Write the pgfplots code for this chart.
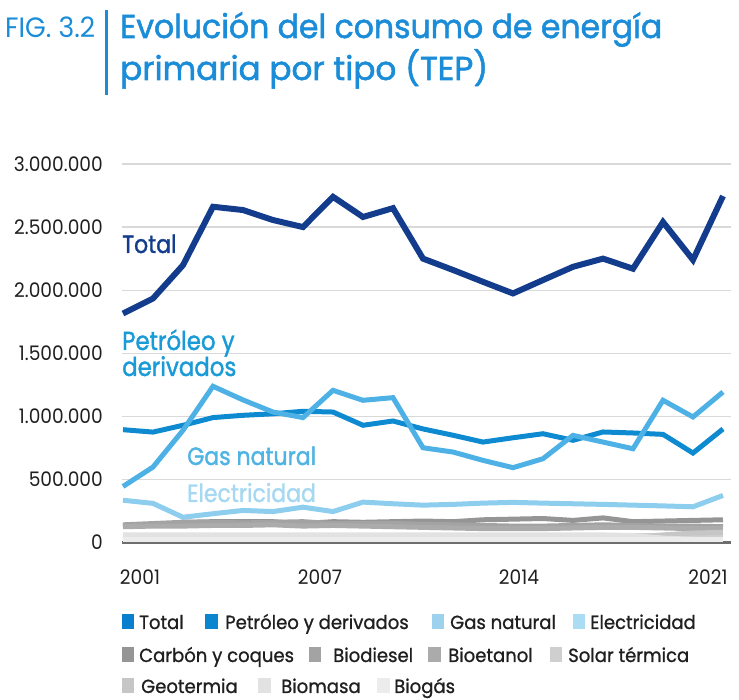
\documentclass[border=0pt]{standalone}
\usepackage{fontspec}
\setmainfont{Poppins}
\newfontfamily\popbold[FakeBold=1.6]{Poppins}
\newfontfamily\popsemi[FakeBold=1.0]{Poppins}
\usepackage{graphicx}
\usepackage{pgfplots}
\usepackage{pgfplotstable}
\pgfplotsset{compat=1.18}

\definecolor{titleblue}{HTML}{1A8CD8}
\definecolor{ctotal}{HTML}{133D8C}
\definecolor{cpet}{HTML}{0E8AD0}
\definecolor{cgas}{HTML}{4DB1E6}
\definecolor{celec}{HTML}{8DCDEE}
\definecolor{lpet}{HTML}{1A9AD6}
\definecolor{lgas}{HTML}{4FB3E3}
\definecolor{lelec}{HTML}{A6D8F1}
\definecolor{cg1}{HTML}{959595}
\definecolor{cg2}{HTML}{A3A3A3}
\definecolor{cg3}{HTML}{ABABAB}
\definecolor{cg4}{HTML}{CFCFCF}
\definecolor{cg5}{HTML}{C6C6C6}
\definecolor{cg6}{HTML}{E2E2E2}
\definecolor{cg7}{HTML}{ECECEC}
\definecolor{sqtotal}{HTML}{0A7FCE}
\definecolor{sqpet}{HTML}{0A86D0}
\definecolor{sqgas}{HTML}{9DD2EE}
\definecolor{sqelec}{HTML}{AADCF3}
\definecolor{gridc}{HTML}{D9D9D9}
\definecolor{basec}{HTML}{6E6E6E}
\definecolor{txt}{HTML}{1F1F1F}

\newcommand{\sq}[1]{\scalebox{0.88}[1]{#1}}
\newcommand{\tl}[1]{\scalebox{0.93}[1]{\fontsize{20}{20}\selectfont #1}}

\pgfplotstableread{
year total pet gas elec carbon biodiesel bioetanol solar geo biomasa biogas
2001 1815000 894000 444000 335000 130000 140000 125000 55000 35000 60000 20000
2002 1934000 875000 598000 310000 135000 150000 130000 55000 35000 60000 20000
2003 2198000 929000 889000 200000 160000 160000 130000 55000 35000 60000 20000
2004 2661000 990000 1238000 228000 165000 160000 135000 55000 35000 60000 20000
2005 2635000 1008000 1130000 254000 165000 155000 135000 55000 35000 60000 20000
2006 2556000 1020000 1034000 245000 165000 160000 140000 55000 35000 60000 20000
2007 2500000 1040000 990000 280000 150000 165000 130000 55000 35000 60000 20000
2008 2740000 1034000 1206000 245000 165000 150000 135000 55000 35000 60000 20000
2009 2580000 929000 1127000 320000 160000 150000 130000 55000 40000 60000 20000
2010 2650000 963000 1148000 307000 165000 150000 125000 55000 40000 60000 20000
2011 2250000 900000 751000 296000 170000 145000 120000 55000 40000 60000 20000
2012 2160000 850000 717000 302000 165000 140000 115000 55000 40000 60000 20000
2013 2066000 796000 651000 312000 180000 135000 110000 55000 40000 60000 20000
2014 1974000 830000 593000 318000 185000 130000 110000 55000 40000 60000 20000
2015 2080000 862000 664000 312000 190000 130000 110000 55000 40000 60000 20000
2016 2185000 810000 849000 307000 175000 135000 115000 55000 40000 60000 20000
2017 2250000 876000 796000 302000 195000 140000 120000 55000 40000 60000 20000
2018 2170000 868000 743000 296000 165000 135000 120000 55000 40000 55000 20000
2019 2540000 857000 1127000 290000 170000 130000 115000 55000 60000 35000 20000
2020 2240000 709000 995000 283000 175000 130000 110000 55000 75000 25000 20000
2021 2746000 900000 1193000 373000 180000 125000 110000 55000 80000 25000 20000
}\datatable

\begin{document}
\begin{tikzpicture}[x=1pt,y=1pt]
\path[use as bounding box] (0,0) rectangle (739,700);

% title
\node[anchor=base west, inner sep=0, text=titleblue] at (5,662) {\resizebox{90pt}{\height}{\fontsize{28}{30}\selectfont FIG. 3.2}};
\fill[titleblue] (105,605) rectangle (108,690);
\node[anchor=base west, inner sep=0, text=titleblue] at (120,662) {\resizebox{542pt}{\height}{\popbold\fontsize{33}{36}\selectfont Evolución del consumo de energía}};
\node[anchor=base west, inner sep=0, text=titleblue] at (120,620) {\resizebox{368pt}{\height}{\popbold\fontsize{33}{36}\selectfont primaria por tipo (TEP)}};

\begin{axis}[
  at={(122pt,157.5pt)}, anchor=south west,
  scale only axis, width=609pt, height=378.5pt,
  xmin=2000.967, xmax=2021.267, ymin=0, ymax=3000000,
  clip=false,
  axis x line*=bottom, axis y line*=left,
  y axis line style={draw=none},
  x axis line style={draw=basec, line width=2.5pt},
  major tick length=0pt,
  ymajorgrids, grid style={draw=gridc, line width=1.2pt},
  scaled y ticks=false, scaled x ticks=false,
  ytick={0,500000,1000000,1500000,2000000,2500000,3000000},
  yticklabels={\tl{0},\tl{500.000},\tl{1.000.000},\tl{1.500.000},\tl{2.000.000},\tl{2.500.000},\tl{3.000.000}},
  xtick={2001.567,2007.567,2014.2,2020.5},
  xticklabels={\tl{2001},\tl{2007},\tl{2014},\tl{2021}},
  yticklabel style={anchor=east, inner sep=0pt, xshift=-19pt, text=txt},
  xticklabel style={anchor=north, inner sep=0pt, yshift=-27pt, text=txt},
  every axis plot/.append style={line width=5pt},
]
\addplot[ctotal, line width=6pt] table[x=year,y=total] {\datatable};
\addplot[cpet] table[x=year,y=pet] {\datatable};
\addplot[cgas] table[x=year,y=gas] {\datatable};
\addplot[celec] table[x=year,y=elec] {\datatable};
\addplot[cg1] table[x=year,y=carbon] {\datatable};
\addplot[cg2] table[x=year,y=biodiesel] {\datatable};
\addplot[cg3] table[x=year,y=bioetanol] {\datatable};
\addplot[cg4] table[x=year,y=solar] {\datatable};
\addplot[cg5] table[x=year,y=geo] {\datatable};
\addplot[cg6] table[x=year,y=biomasa] {\datatable};
\addplot[cg7] table[x=year,y=biogas] {\datatable};
\end{axis}

% inline labels
\node[anchor=base west, inner sep=0, text=ctotal] at (122,447) {\sq{\popbold\fontsize{25}{25}\selectfont Total}};
\node[anchor=base west, inner sep=0, text=lpet] at (122,350) {\sq{\popbold\fontsize{26}{26}\selectfont Petróleo y}};
\node[anchor=base west, inner sep=0, text=lpet] at (122,324) {\sq{\popbold\fontsize{26}{26}\selectfont derivados}};
\node[anchor=base west, inner sep=0, text=lgas] at (187,235) {\sq{\popbold\fontsize{25}{25}\selectfont Gas natural}};
\node[anchor=base west, inner sep=0, text=lelec] at (187,198) {\sq{\popbold\fontsize{25}{25}\selectfont Electricidad}};

% legend
\def\lfs{\popsemi\fontsize{19}{19}\selectfont}
\newcommand{\lt}[1]{\scalebox{0.95}[1]{\lfs #1}}
% row 1
\fill[sqtotal] (122,71) rectangle (134,86);
\node[anchor=base west, inner sep=0, text=txt] at (139,71) {\lt{Total}};
\fill[sqpet] (205,71) rectangle (218,86);
\node[anchor=base west, inner sep=0, text=txt] at (225,71) {\lt{Petróleo y derivados}};
\fill[sqgas] (432,71) rectangle (444,86);
\node[anchor=base west, inner sep=0, text=txt] at (450,71) {\lt{Gas natural}};
\fill[sqelec] (573,71) rectangle (585,86);
\node[anchor=base west, inner sep=0, text=txt] at (590,71) {\lt{Electricidad}};
% row 2
\fill[cg1] (122,38) rectangle (134,53);
\node[anchor=base west, inner sep=0, text=txt] at (139,38) {\lt{Carbón y coques}};
\fill[cg2] (309,38) rectangle (321,53);
\node[anchor=base west, inner sep=0, text=txt] at (333,38) {\lt{Biodiesel}};
\fill[cg3] (428,38) rectangle (441,53);
\node[anchor=base west, inner sep=0, text=txt] at (448,38) {\lt{Bioetanol}};
\fill[cg4] (550,38) rectangle (562,53);
\node[anchor=base west, inner sep=0, text=txt] at (568,38) {\lt{Solar térmica}};
% row 3
\fill[cg5] (122,7) rectangle (134,22);
\node[anchor=base west, inner sep=0, text=txt] at (141,7) {\lt{Geotermia}};
\fill[cg6] (258,7) rectangle (271,22);
\node[anchor=base west, inner sep=0, text=txt] at (281,7) {\lt{Biomasa}};
\fill[cg7] (377,7) rectangle (390,22);
\node[anchor=base west, inner sep=0, text=txt] at (394,7) {\lt{Biogás}};
\end{tikzpicture}
\end{document}
